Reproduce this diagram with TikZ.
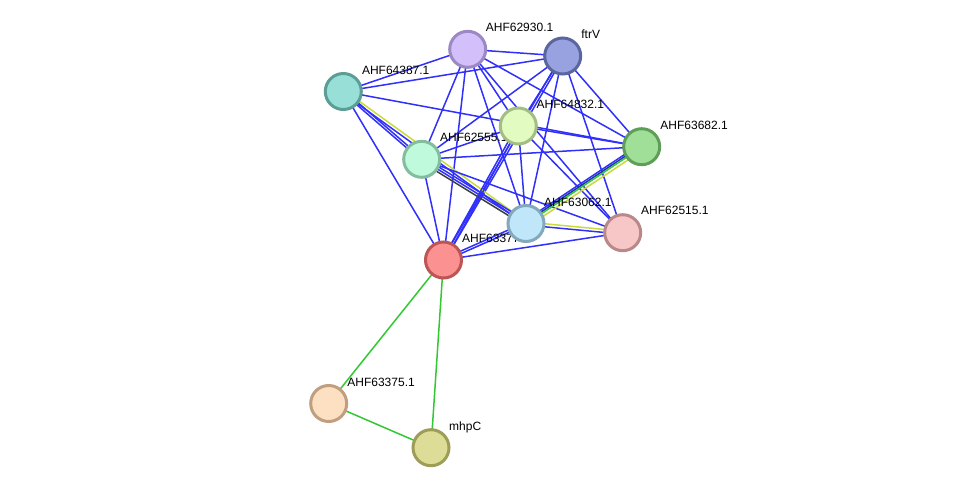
\documentclass[tikz,border=0pt]{standalone}
\usepackage{fontspec}
\setmainfont{Liberation Sans}
\usetikzlibrary{calc}
\pgfdeclarelayer{edges}
\pgfdeclarelayer{labels}
\pgfsetlayers{edges,labels,main}

\definecolor{eblue}{RGB}{48,48,250}
\definecolor{edblue}{RGB}{30,50,170}
\definecolor{egreen}{RGB}{51,200,51}
\definecolor{eyellow}{RGB}{200,218,60}
\definecolor{eblack}{RGB}{60,60,60}

\newcommand\edg[4]{\draw[#4] ($(#1.center)!#3!90:(#2.center)$) -- ($(#2.center)!#3!-90:(#1.center)$);}

\tikzset{
  prot/.style={circle, minimum size=36pt, inner sep=0pt, line width=3pt},
  lab/.style={anchor=base west, inner sep=0pt, font=\fontsize{12}{14}\selectfont, text=black},
  eb/.style={eblue, line width=1.5pt},
  edb/.style={edblue, line width=1.5pt},
  eg/.style={egreen, line width=1.5pt},
  ey/.style={eyellow, line width=1.5pt},
  ek/.style={eblack, line width=1.5pt},
}

\begin{document}
\begin{tikzpicture}[x=1pt,y=-1pt]
\useasboundingbox (0,0) rectangle (975,493);

% nodes
\node[prot, fill={rgb,255:red,211;green,192;blue,250}, draw={rgb,255:red,155;green,136;blue,196}] (p62930) at (467.7,49.3) {};
\node[prot, fill={rgb,255:red,152;green,162;blue,224}, draw={rgb,255:red,91;green,102;blue,158}] (ftrV) at (562.7,56) {};
\node[prot, fill={rgb,255:red,152;green,224;blue,215}, draw={rgb,255:red,90;green,158;blue,149}] (p64387) at (343.3,91.5) {};
\node[prot, fill={rgb,255:red,226;green,251;blue,192}, draw={rgb,255:red,163;green,189;blue,132}] (p64832) at (518.3,126) {};
\node[prot, fill={rgb,255:red,159;green,223;blue,152}, draw={rgb,255:red,95;green,158;blue,88}] (p63682) at (641.7,146.7) {};
\node[prot, fill={rgb,255:red,192;green,250;blue,221}, draw={rgb,255:red,132;green,188;blue,159}] (p62555) at (421.7,159.3) {};
\node[prot, fill={rgb,255:red,192;green,230;blue,250}, draw={rgb,255:red,132;green,168;blue,188}] (p63062) at (526,223.5) {};
\node[prot, fill={rgb,255:red,247;green,199;blue,199}, draw={rgb,255:red,185;green,136;blue,136}] (p62515) at (622.7,232.7) {};
\node[prot, fill={rgb,255:red,251;green,145;blue,145}, draw={rgb,255:red,189;green,85;blue,85}] (p63377) at (443.5,260) {};
\node[prot, fill={rgb,255:red,253;green,224;blue,194}, draw={rgb,255:red,191;green,159;blue,128}] (p63375) at (328.7,403.5) {};
\node[prot, fill={rgb,255:red,222;green,221;blue,152}, draw={rgb,255:red,158;green,157;blue,88}] (mhpC) at (431,447.7) {};

% labels
\begin{pgfonlayer}{labels}
\node[lab] (l62930) at ($(p62930.center)+(18,-17.5)$) {AHF62930.1};
\node[lab] (lftrV) at ($(ftrV.center)+(18.5,-18)$) {ftrV};
\node[lab] (l64387) at ($(p64387.center)+(18.5,-17.5)$) {AHF64387.1};
\node[lab] (l64832) at ($(p64832.center)+(18.2,-18)$) {AHF64832.1};
\node[lab] (l63682) at ($(p63682.center)+(18.5,-17.5)$) {AHF63682.1};
\node[lab] (l62555) at ($(p62555.center)+(18.2,-17.5)$) {AHF62555.1};
\node[lab] (l63062) at ($(p63062.center)+(18,-17.5)$) {AHF63062.1};
\node[lab] (l62515) at ($(p62515.center)+(18.3,-18.5)$) {AHF62515.1};
\node[lab] (l63377) at ($(p63377.center)+(18.5,-18)$) {AHF63377.1};
\node[lab] (l63375) at ($(p63375.center)+(18.5,-17.5)$) {AHF63375.1};
\node[lab] (lmhpC) at ($(mhpC.center)+(18,-17.7)$) {mhpC};
\end{pgfonlayer}

% edges
\begin{pgfonlayer}{edges}
\draw[eb] (p62930.center) -- (ftrV.center);
\draw[eb] (p62930.center) -- (p64387.center);
\draw[eb] (p62930.center) -- (p64832.center);
\draw[eb] (p62930.center) -- (p62555.center);
\draw[eb] (p62930.center) -- (p63062.center);
\draw[eb] (p62930.center) -- (p63377.center);
\draw[eb] (p62930.center) -- (p63682.center);
\draw[eb] (p62930.center) -- (p62515.center);
\draw[eb] (ftrV.center) -- (p64387.center);
\draw[eb] (ftrV.center) -- (p62555.center);
\draw[eb] (ftrV.center) -- (p64832.center);
\edg{ftrV}{p63377}{1.2pt}{eb}
\edg{ftrV}{p63377}{-1.2pt}{eb}
\draw[eb] (ftrV.center) -- (p63062.center);
\draw[eb] (ftrV.center) -- (p63682.center);
\draw[eb] (ftrV.center) -- (p62515.center);
\draw[eb] (p64387.center) -- (p63682.center);
\edg{p64387}{p62555}{1.2pt}{eb}
\edg{p64387}{p62555}{-1.2pt}{eb}
\edg{p64387}{p63062}{-1.5pt}{eb}
\edg{p64387}{p63062}{1.5pt}{ey}
\draw[eb] (p64387.center) -- (p63377.center);
\draw[eb] (p62555.center) -- (p64832.center);
\draw[eb] (p62555.center) -- (p63682.center);
\edg{p62555}{p63062}{2.4pt}{eb}
\edg{p62555}{p63062}{0pt}{eb}
\edg{p62555}{p63062}{-2.4pt}{ek}
\draw[eb] (p62555.center) -- (p62515.center);
\draw[eb] (p62555.center) -- (p63377.center);
\draw[eb] (p64832.center) -- (p63682.center);
\edg{p64832}{p63377}{1.2pt}{eb}
\edg{p64832}{p63377}{-1.2pt}{eb}
\draw[eb] (p64832.center) -- (p63062.center);
\draw[eb] (p64832.center) -- (p62515.center);
\edg{p63682}{p63062}{-3pt}{eb}
\edg{p63682}{p63062}{-1.2pt}{edb}
\edg{p63682}{p63062}{0.4pt}{eg}
\edg{p63682}{p63062}{3.5pt}{ey}
\edg{p63062}{p62515}{1.5pt}{ey}
\edg{p63062}{p62515}{-1.5pt}{eb}
\edg{p63377}{p63062}{1.2pt}{eb}
\edg{p63377}{p63062}{-1.2pt}{eb}
\draw[eb] (p63377.center) -- (p62515.center);
\draw[eg] (p63377.center) -- (p63375.center);
\draw[eg] (p63377.center) -- (mhpC.center);
\draw[eg] (p63375.center) -- (mhpC.center);
\end{pgfonlayer}
\end{tikzpicture}
\end{document}
